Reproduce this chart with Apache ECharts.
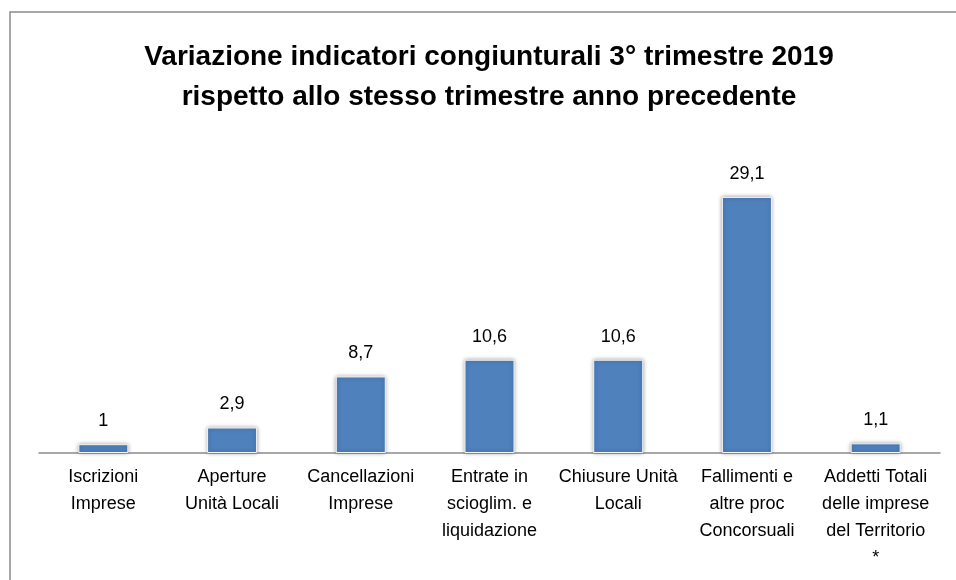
<!DOCTYPE html>
<html>
<head>
    <meta charset="utf-8">
    <title>Variazione indicatori congiunturali</title>
    <style type="text/css">
        * { margin: 0; padding: 0; }
        body { background: #fff; }
        #chart { width: 956px; height: 580px; }
    </style>
</head>
<body>
<div id="chart"></div>
<script src="https://cdn.jsdelivr.net/npm/echarts@6/dist/echarts.min.js"></script>
<script type="text/javascript">
    // categorie (gia' spezzate su piu' righe come nell'originale)
    const categories = [
        'Iscrizioni\nImprese',
        'Aperture\nUnità Locali',
        'Cancellazioni\nImprese',
        'Entrate in\nscioglim. e\nliquidazione',
        'Chiusure Unità\nLocali',
        'Fallimenti e\naltre proc\nConcorsuali',
        'Addetti Totali\ndelle imprese\ndel Territorio\n*'
    ];
    const values = [1, 2.9, 8.7, 10.6, 10.6, 29.1, 1.1];
    const titleLines = [
        'Variazione indicatori congiunturali 3° trimestre 2019',
        'rispetto allo stesso trimestre anno precedente'
    ];

    const font = '"Liberation Sans", "DejaVu Sans", sans-serif';
    const chart = echarts.init(document.getElementById('chart'));

    const option = {
        animation: false,
        graphic: [
            // cornice del grafico (solo lato sinistro e superiore visibili)
            {
                type: 'polyline',
                shape: { points: [[10, 580], [10, 12], [956, 12]] },
                style: { stroke: '#8a8a8a', lineWidth: 1.5, fill: null }
            },
            // titolo, centrato un po' a destra come nell'originale
            {
                type: 'text',
                x: 489,
                y: 77,
                style: {
                    text: titleLines.join('\n'),
                    textAlign: 'center',
                    textVerticalAlign: 'middle',
                    fontFamily: font,
                    fontSize: 28,
                    fontWeight: 'bold',
                    lineHeight: 40,
                    fill: '#000'
                }
            }
        ],
        grid: {
            left: 39,
            right: 16,
            top: 189,
            bottom: 127,
            containLabel: false
        },
        xAxis: {
            type: 'category',
            data: categories,
            axisLine: { lineStyle: { color: '#8c8c8c', width: 1.5 } },
            axisTick: { show: false },
            axisLabel: {
                interval: 0,
                margin: 11,
                fontFamily: font,
                fontSize: 18,
                lineHeight: 27,
                color: '#000'
            }
        },
        yAxis: {
            type: 'value',
            min: 0,
            max: 30,
            show: false,
            splitLine: { show: false }
        },
        series: [{
            type: 'bar',
            data: values,
            barWidth: 50,
            itemStyle: {
                color: '#4F81BD',
                borderColor: '#f4f4f4',
                borderWidth: 1,
                shadowBlur: 4,
                shadowColor: 'rgba(0,0,0,0.35)'
            },
            label: {
                show: true,
                position: 'top',
                distance: 14,
                fontFamily: font,
                fontSize: 18,
                color: '#000',
                formatter: p => String(p.value).replace('.', ',')
            }
        }]
    };

    chart.setOption(option);
</script>
</body>
</html>
